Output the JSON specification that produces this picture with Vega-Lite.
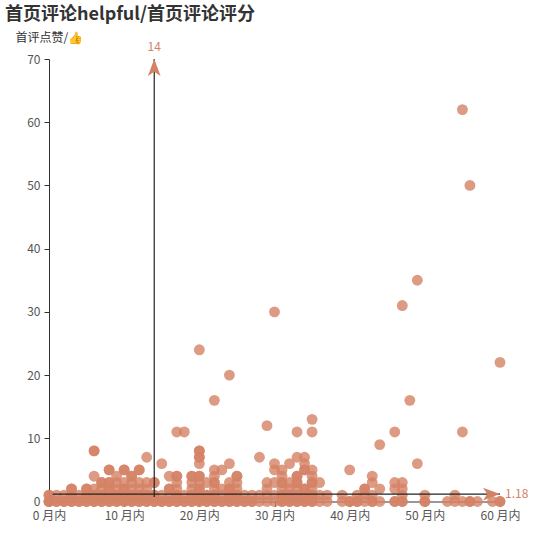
{"$schema":"https://vega.github.io/schema/vega-lite/v6.json","autosize":"none","width":451,"height":442.5,"padding":{"left":49,"top":59,"right":38,"bottom":36.5},"background":"white","title":{"text":"首页评论helpful/首页评论评分","anchor":"start","frame":"group","font":"Noto Sans CJK SC","fontSize":18,"fontWeight":"bold","color":"#333","dx":-44,"dy":-7,"offset":0},"config":{"view":{"stroke":null},"font":"Noto Sans CJK SC"},"layer":[{"data":{"values":[{"m":0,"v":0},{"m":0,"v":0},{"m":0,"v":0},{"m":1,"v":0},{"m":1,"v":0},{"m":2,"v":0},{"m":2,"v":0},{"m":3,"v":0},{"m":3,"v":0},{"m":4,"v":0},{"m":4,"v":0},{"m":5,"v":0},{"m":5,"v":0},{"m":6,"v":0},{"m":6,"v":0},{"m":7,"v":0},{"m":7,"v":0},{"m":8,"v":0},{"m":8,"v":0},{"m":9,"v":0},{"m":9,"v":0},{"m":10,"v":0},{"m":10,"v":0},{"m":11,"v":0},{"m":11,"v":0},{"m":12,"v":0},{"m":12,"v":0},{"m":13,"v":0},{"m":13,"v":0},{"m":14,"v":0},{"m":14,"v":0},{"m":15,"v":0},{"m":15,"v":0},{"m":16,"v":0},{"m":16,"v":0},{"m":17,"v":0},{"m":17,"v":0},{"m":18,"v":0},{"m":18,"v":0},{"m":19,"v":0},{"m":19,"v":0},{"m":20,"v":0},{"m":20,"v":0},{"m":21,"v":0},{"m":21,"v":0},{"m":22,"v":0},{"m":22,"v":0},{"m":23,"v":0},{"m":23,"v":0},{"m":24,"v":0},{"m":24,"v":0},{"m":25,"v":0},{"m":25,"v":0},{"m":26,"v":0},{"m":26,"v":0},{"m":27,"v":0},{"m":27,"v":0},{"m":28,"v":0},{"m":29,"v":0},{"m":30,"v":0},{"m":31,"v":0},{"m":31,"v":0},{"m":32,"v":0},{"m":32,"v":0},{"m":33,"v":0},{"m":33,"v":0},{"m":34,"v":0},{"m":34,"v":0},{"m":35,"v":0},{"m":35,"v":0},{"m":36,"v":0},{"m":37,"v":0},{"m":39,"v":0},{"m":40,"v":0},{"m":40,"v":0},{"m":41,"v":0},{"m":41,"v":0},{"m":42,"v":0},{"m":43,"v":0},{"m":43,"v":0},{"m":44,"v":0},{"m":46,"v":0},{"m":46,"v":0},{"m":47,"v":0},{"m":47,"v":0},{"m":50,"v":0},{"m":50,"v":0},{"m":53,"v":0},{"m":54,"v":0},{"m":55,"v":0},{"m":56,"v":0},{"m":56,"v":0},{"m":57,"v":0},{"m":59,"v":0},{"m":60,"v":0},{"m":60,"v":0},{"m":0,"v":1},{"m":0,"v":1},{"m":1,"v":1},{"m":2,"v":1},{"m":3,"v":1},{"m":3,"v":1},{"m":4,"v":1},{"m":5,"v":1},{"m":5,"v":1},{"m":6,"v":1},{"m":6,"v":1},{"m":7,"v":1},{"m":7,"v":1},{"m":8,"v":1},{"m":8,"v":1},{"m":9,"v":1},{"m":9,"v":1},{"m":10,"v":1},{"m":10,"v":1},{"m":11,"v":1},{"m":11,"v":1},{"m":12,"v":1},{"m":12,"v":1},{"m":13,"v":1},{"m":13,"v":1},{"m":14,"v":1},{"m":14,"v":1},{"m":15,"v":1},{"m":16,"v":1},{"m":17,"v":1},{"m":17,"v":1},{"m":18,"v":1},{"m":19,"v":1},{"m":19,"v":1},{"m":20,"v":1},{"m":20,"v":1},{"m":21,"v":1},{"m":21,"v":1},{"m":22,"v":1},{"m":22,"v":1},{"m":23,"v":1},{"m":24,"v":1},{"m":24,"v":1},{"m":25,"v":1},{"m":25,"v":1},{"m":26,"v":1},{"m":27,"v":1},{"m":28,"v":1},{"m":29,"v":1},{"m":30,"v":1},{"m":31,"v":1},{"m":31,"v":1},{"m":32,"v":1},{"m":32,"v":1},{"m":33,"v":1},{"m":33,"v":1},{"m":34,"v":1},{"m":34,"v":1},{"m":35,"v":1},{"m":35,"v":1},{"m":36,"v":1},{"m":37,"v":1},{"m":39,"v":1},{"m":41,"v":1},{"m":42,"v":1},{"m":43,"v":1},{"m":47,"v":1},{"m":50,"v":1},{"m":54,"v":1},{"m":3,"v":2},{"m":3,"v":2},{"m":5,"v":2},{"m":5,"v":2},{"m":6,"v":2},{"m":7,"v":2},{"m":8,"v":2},{"m":8,"v":2},{"m":9,"v":2},{"m":10,"v":2},{"m":10,"v":2},{"m":11,"v":2},{"m":12,"v":2},{"m":13,"v":2},{"m":16,"v":2},{"m":16,"v":2},{"m":17,"v":2},{"m":19,"v":2},{"m":20,"v":2},{"m":20,"v":2},{"m":22,"v":2},{"m":23,"v":2},{"m":24,"v":2},{"m":24,"v":2},{"m":25,"v":2},{"m":29,"v":2},{"m":31,"v":2},{"m":32,"v":2},{"m":33,"v":2},{"m":34,"v":2},{"m":34,"v":2},{"m":35,"v":2},{"m":42,"v":2},{"m":42,"v":2},{"m":44,"v":2},{"m":46,"v":2},{"m":47,"v":2},{"m":7,"v":3},{"m":7,"v":3},{"m":8,"v":3},{"m":8,"v":3},{"m":9,"v":3},{"m":10,"v":3},{"m":11,"v":3},{"m":12,"v":3},{"m":13,"v":3},{"m":14,"v":3},{"m":14,"v":3},{"m":17,"v":3},{"m":19,"v":3},{"m":20,"v":3},{"m":21,"v":3},{"m":22,"v":3},{"m":22,"v":3},{"m":24,"v":3},{"m":25,"v":3},{"m":29,"v":3},{"m":30,"v":3},{"m":31,"v":3},{"m":31,"v":3},{"m":32,"v":3},{"m":33,"v":3},{"m":33,"v":3},{"m":35,"v":3},{"m":35,"v":3},{"m":36,"v":3},{"m":43,"v":3},{"m":46,"v":3},{"m":47,"v":3},{"m":6,"v":4},{"m":9,"v":4},{"m":11,"v":4},{"m":11,"v":4},{"m":16,"v":4},{"m":17,"v":4},{"m":17,"v":4},{"m":19,"v":4},{"m":19,"v":4},{"m":20,"v":4},{"m":20,"v":4},{"m":22,"v":4},{"m":25,"v":4},{"m":25,"v":4},{"m":31,"v":4},{"m":33,"v":4},{"m":33,"v":4},{"m":35,"v":4},{"m":43,"v":4},{"m":8,"v":5},{"m":8,"v":5},{"m":10,"v":5},{"m":10,"v":5},{"m":12,"v":5},{"m":12,"v":5},{"m":22,"v":5},{"m":23,"v":5},{"m":30,"v":5},{"m":31,"v":5},{"m":34,"v":5},{"m":34,"v":5},{"m":35,"v":5},{"m":40,"v":5},{"m":15,"v":6},{"m":20,"v":6},{"m":24,"v":6},{"m":30,"v":6},{"m":32,"v":6},{"m":34,"v":6},{"m":49,"v":6},{"m":13,"v":7},{"m":20,"v":7},{"m":20,"v":7},{"m":28,"v":7},{"m":33,"v":7},{"m":34,"v":7},{"m":6,"v":8},{"m":6,"v":8},{"m":20,"v":8},{"m":20,"v":8},{"m":44,"v":9},{"m":17,"v":11},{"m":18,"v":11},{"m":33,"v":11},{"m":35,"v":11},{"m":46,"v":11},{"m":55,"v":11},{"m":29,"v":12},{"m":35,"v":13},{"m":22,"v":16},{"m":48,"v":16},{"m":24,"v":20},{"m":60,"v":22},{"m":20,"v":24},{"m":30,"v":30},{"m":47,"v":31},{"m":49,"v":35},{"m":56,"v":50},{"m":55,"v":62}]},"mark":{"type":"circle","size":118,"color":"#d48265","opacity":0.8},"encoding":{"x":{"field":"m","type":"quantitative","scale":{"domain":[0,60],"nice":false},"axis":{"values":[0,10,20,30,40,50,60],"labelExpr":"datum.value + ' 月内'","title":null,"grid":false,"domainColor":"#333","tickColor":"#333","labelColor":"#555","labelFont":"Noto Sans CJK SC","labelFontSize":12,"tickSize":5,"labelPadding":4,"labelFlush":false,"labelOverlap":false}},"y":{"field":"v","type":"quantitative","scale":{"domain":[0,70],"nice":false},"axis":{"values":[0,10,20,30,40,50,60,70],"title":"首评点赞/👍","titleAngle":0,"titleX":-34,"titleY":-22,"titleAlign":"left","titleBaseline":"middle","titleFont":"Noto Sans CJK SC","titleFontSize":12,"titleFontWeight":"normal","titleColor":"#333","grid":false,"domainColor":"#333","tickColor":"#333","labelColor":"#555","labelFont":"Noto Sans CJK SC","labelFontSize":12,"tickSize":5,"labelPadding":4}}}},{"data":{"values":[{"a":14,"a2":14,"b":0.7,"b2":70},{"a":0.5,"a2":60,"b":1.18,"b2":1.18}]},"mark":{"type":"rule","color":"#222","strokeWidth":1.2},"encoding":{"x":{"field":"a","type":"quantitative"},"x2":{"field":"a2"},"y":{"field":"b","type":"quantitative"},"y2":{"field":"b2"}}},{"data":{"values":[{"a":14,"b":70}]},"mark":{"type":"point","filled":true,"opacity":1,"color":"#d48265","size":289,"shape":"M0,0L0.75,2L0,1.5L-0.75,2Z"},"encoding":{"x":{"field":"a","type":"quantitative"},"y":{"field":"b","type":"quantitative"}}},{"data":{"values":[{"a":60,"b":1.18}]},"mark":{"type":"point","filled":true,"opacity":1,"color":"#d48265","size":289,"shape":"M0,0L-2,-0.75L-1.5,0L-2,0.75Z"},"encoding":{"x":{"field":"a","type":"quantitative"},"y":{"field":"b","type":"quantitative"}}},{"data":{"values":[{"a":14,"b":70,"t":"14"}]},"mark":{"type":"text","color":"#d48265","font":"Noto Sans CJK SC","fontSize":12,"dy":-12},"encoding":{"x":{"field":"a","type":"quantitative"},"y":{"field":"b","type":"quantitative"},"text":{"field":"t"}}},{"data":{"values":[{"a":60,"b":1.18,"t":"1.18"}]},"mark":{"type":"text","color":"#d48265","font":"Noto Sans CJK SC","fontSize":12,"align":"left","dx":5},"encoding":{"x":{"field":"a","type":"quantitative"},"y":{"field":"b","type":"quantitative"},"text":{"field":"t"}}}]}
